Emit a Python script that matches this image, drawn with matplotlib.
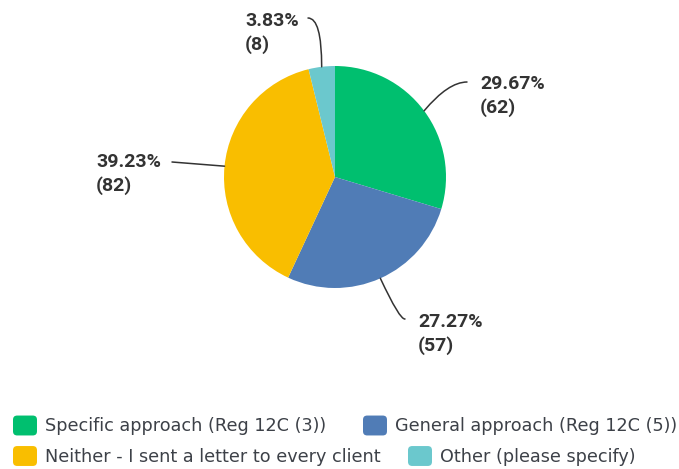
import numpy as np
import matplotlib.pyplot as plt
from matplotlib.patches import FancyBboxPatch
from matplotlib.legend_handler import HandlerPatch

categories = ['Specific approach (Reg 12C (3))',
              'General approach (Reg 12C (5))',
              'Neither - I sent a letter to every client',
              'Other (please specify)']
counts = [62, 57, 82, 8]
colors = ['#00bf6f', '#507cb6', '#f9be00', '#6bc8cd']

W, H = 679, 469
CX, CY, R = 335, 177, 111   # pie centre / radius in pixels (y from top)

# label layout per slice: leader end point, text left/first-line centre, leader curve
label_end = [(467, 82), (405, 319), (172, 162), (308, 18)]
label_txt = [(480, 84), (418, 322), (96, 162), (245, 21)]
conn = ['angle3,angleA=0,angleB=50',
        'angle3,angleA=10,angleB=-65',
        'arc3,rad=0',
        'angle3,angleA=0,angleB=90']

# legend entry anchors (swatch left edge, row centre), pixels from top-left
legend_pos = [(13, 425.5), (363, 425.5), (13, 456), (408, 456)]

def fy(y):
    return H - y

fig = plt.figure(figsize=(W / 100, H / 100), dpi=100)
ax = fig.add_axes([0, 0, 1, 1])

wedges, _ = ax.pie(counts, colors=colors, startangle=90, counterclock=False,
                   center=(CX, fy(CY)), radius=R, frame=True)
ax.set_xlim(0, W)
ax.set_ylim(0, H)
ax.set_aspect('equal')
ax.axis('off')

total = sum(counts)
lab_font = dict(family=['Roboto', 'DejaVu Sans'], weight='bold', size=14, color='#333333')
for i, w in enumerate(wedges):
    mid = np.deg2rad((w.theta1 + w.theta2) / 2)
    ax_pt = (CX + R * np.cos(mid), fy(CY) + R * np.sin(mid))
    ex, ey = label_end[i]
    ax.annotate('', xy=ax_pt, xytext=(ex, fy(ey)),
                arrowprops=dict(arrowstyle='-', color='#333333', lw=1.1,
                                connectionstyle=conn[i], shrinkA=0, shrinkB=0))
    tx, ty = label_txt[i]
    pct = counts[i] / total * 100
    ax.text(tx, fy(ty), f'{pct:.2f}%', ha='left', va='center', **lab_font)
    ax.text(tx, fy(ty + 24), f'({counts[i]})', ha='left', va='center', **lab_font)

# rounded legend swatches
def rounded_box(legend, orig_handle, xdescent, ydescent, width, height, fontsize):
    return FancyBboxPatch((-xdescent + 1.5, -ydescent + 1.5), width - 3, height - 3,
                          boxstyle='round,pad=1.5,rounding_size=3',
                          facecolor=orig_handle.get_facecolor(), edgecolor='none')

hmap = {type(wedges[0]): HandlerPatch(patch_func=rounded_box)}
leg_kw = dict(frameon=False, loc='center left', borderpad=0, borderaxespad=0,
              handlelength=1.36, handleheight=1.36, handletextpad=0.45,
              handler_map=hmap, prop=dict(family='DejaVu Sans', size=12.7))
for k, (lx, ly) in enumerate(legend_pos):
    leg = fig.legend([wedges[k]], [categories[k]],
                     bbox_to_anchor=(lx / W, (H - ly) / H), **leg_kw)
    leg.get_texts()[0].set_color('#3d4148')

fig.savefig('out.png', dpi=100)
